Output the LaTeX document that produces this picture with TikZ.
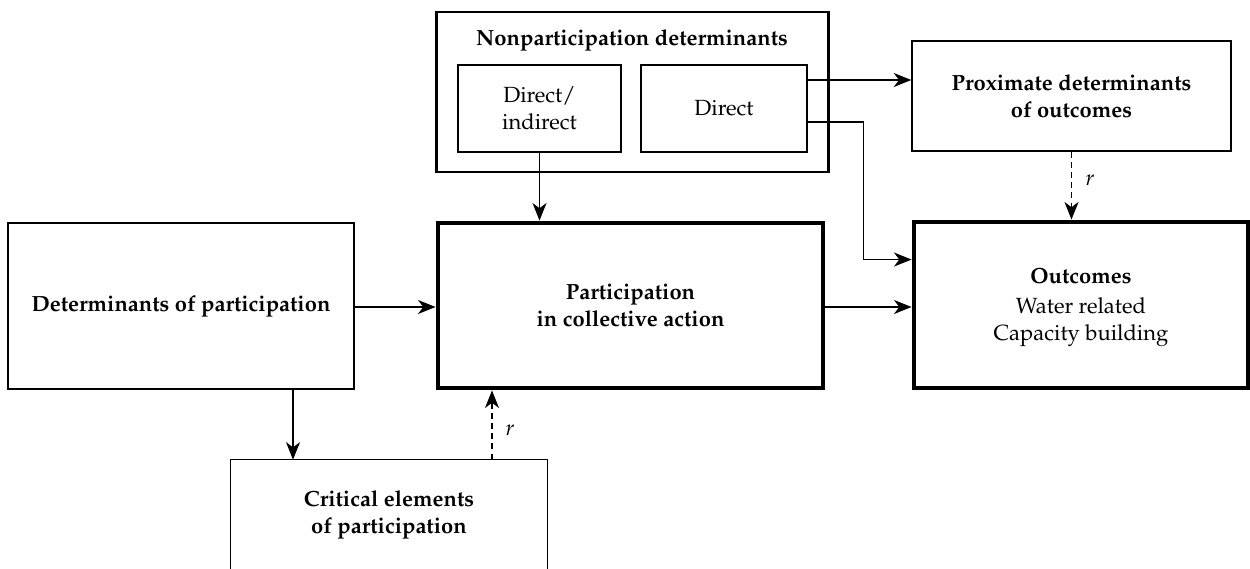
\documentclass[tikz,border=0pt]{standalone}
\usepackage[T1]{fontenc}
\usepackage{mathpazo}
\usetikzlibrary{arrows.meta,calc}
\tikzset{
  box/.style={draw, rectangle, align=center, inner sep=0pt},
  heavy/.style={box, line width=2.8pt},
  mid/.style={box, line width=1.1pt},
  light/.style={box, line width=0.8pt},
  arr/.style={line width=0.75pt, -{Stealth[length=10pt,width=8pt,inset=3pt]}},
  darr/.style={arr, dash pattern=on 3.4pt off 2.4pt},
  lbl/.style={font=\fontsize{12.5}{15.5}\selectfont},
  blbl/.style={font=\fontsize{12.5}{15.5}\selectfont\bfseries}
}
\begin{document}
\begin{tikzpicture}[x=0.02cm,y=-0.02cm]
\useasboundingbox (0,0) rectangle (1250,568);
% boxes
\node[box, line width=1.7pt, minimum width=392*0.02cm, minimum height=160*0.02cm] (np) at (632,92) {};
\node[blbl, anchor=center] (nplbl) at (632,40) {Nonparticipation determinants};
\node[mid, lbl, minimum width=163*0.02cm, minimum height=87*0.02cm] (di) at (539.5,108.5) {Direct/\\indirect};
\node[mid, lbl, minimum width=166*0.02cm, minimum height=87*0.02cm] (dr) at (724,108.5) {Direct};
\node[light, blbl, minimum width=319*0.02cm, minimum height=110*0.02cm] (prox) at (1071.5,96) {Proximate determinants\\of outcomes};
\node[heavy, minimum width=334*0.02cm, minimum height=166*0.02cm] (out) at (1081,305) {};
\node[blbl] (outt) at (1081,276) {Outcomes};
\node[lbl, align=center] (outs) at (1081,322) {Water related\\Capacity building};
\node[heavy, blbl, minimum width=385*0.02cm, minimum height=165*0.02cm] (part) at (630.5,305.5) {Participation\\in collective action};
\node[mid, blbl, minimum width=346*0.02cm, minimum height=166*0.02cm] (det) at (181,306) {Determinants of participation};
\node[box, draw=none, blbl, minimum width=316*0.02cm, minimum height=110*0.02cm] (crit) at (389,515) {Critical elements\\of participation};
\draw[line width=0.6pt] (crit.south west) -- (crit.north west) -- (crit.north east) -- (crit.south east);
% connectors
\coordinate (a1) at ($(dr.east)+(0,-28.5)$);
\draw[arr] (a1) -- (a1 -| prox.west);
\coordinate (a2) at ($(dr.east)+(0,13.5)$);
\coordinate (t2) at ($(out.north west)+(0,40)$);
\draw[arr] (a2) -| ($(t2)+(-48,0)$) -- (t2);
\draw[arr] (di.south) -- (di.south |- part.north);
\coordinate (d0) at ($(det.east)+(0,1)$);
\draw[arr] (d0) -- (d0 -| part.west);
\coordinate (p0) at ($(part.east)+(0,1.5)$);
\draw[arr] (p0) -- (p0 -| out.west);
\coordinate (d1) at ($(det.south)+(112,0)$);
\draw[arr] (d1) -- (d1 |- crit.north);
\coordinate (c1) at ($(crit.north)+(103,0)$);
\draw[darr] (c1) -- (c1 |- part.south);
\node[font=\fontsize{12.5}{15.5}\selectfont\itshape] (r1) at (510,430) {r};
\draw[darr] (prox.south) -- (prox.south |- out.north);
\node[font=\fontsize{12.5}{15.5}\selectfont\itshape] (r2) at (1090,180) {r};
\end{tikzpicture}
\end{document}
